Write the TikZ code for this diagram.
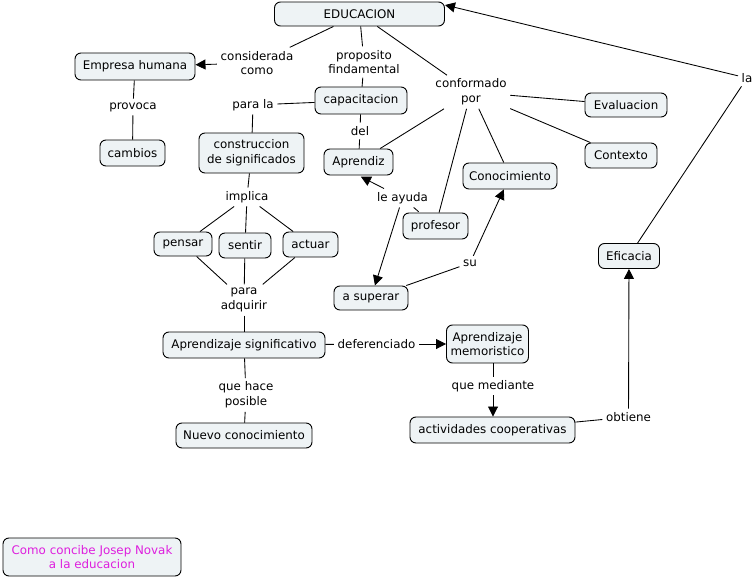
\documentclass[tikz,border=0pt]{standalone}
\usepackage{fontspec}
\setmainfont{DejaVu Sans}
\usetikzlibrary{arrows.meta}
\definecolor{boxfill}{RGB}{238,243,245}
\definecolor{novak}{RGB}{222,30,222}
\begin{document}
\begin{tikzpicture}[x=0.75pt,y=-0.75pt,
  every node/.style={font=\fontsize{8.9pt}{11pt}\selectfont, align=center},
  box/.style={draw, line width=0.7pt, rounded corners=4.5pt, fill=boxfill, inner sep=0pt},
  bs/.style 2 args={minimum width=#1*0.75pt, minimum height=#2*0.75pt},
  lab/.style={inner sep=2.6pt},
  conn/.style={line width=0.65pt},
  arr/.style={conn, -{Triangle[length=7.5pt,width=7.5pt]}}
]
\useasboundingbox (0,0) rectangle (755,578);
% concept boxes
\node[box, bs={170}{24}] (educ) at (359.5,14) {EDUCACION};
\node[box, bs={120}{27}] (emp) at (135,66.5) {Empresa humana};
\node[box, bs={65}{26}] (camb) at (132.5,153) {cambios};
\node[box, bs={92}{27}] (capa) at (361,100.5) {capacitacion};
\node[box, bs={105}{40}] (cons) at (251.5,153) {construccion\\de significados};
\node[box, bs={69}{26}] (apr) at (358.5,162) {Aprendiz};
\node[box, bs={94}{26}] (cono) at (510,176) {Conocimiento};
\node[box, bs={82}{24}] (eval) at (626,105) {Evaluacion};
\node[box, bs={72}{25}] (cont) at (621,155.5) {Contexto};
\node[box, bs={65}{26}] (prof) at (435.5,226) {profesor};
\node[box, bs={58}{24}] (pens) at (183,244) {pensar};
\node[box, bs={52}{25}] (sent) at (245,245.5) {sentir};
\node[box, bs={55}{25}] (actu) at (310.5,244.5) {actuar};
\node[box, bs={74}{24}] (asup) at (371,298) {a superar};
\node[box, bs={61}{25}] (efic) at (629,256) {Eficacia};
\node[box, bs={162}{26}] (asig) at (244,345) {Aprendizaje significativo};
\node[box, bs={82}{38}] (amem) at (487.5,344) {Aprendizaje\\memoristico};
\node[box, bs={136}{25}] (nuevo) at (244,435.5) {Nuevo conocimiento};
\node[box, bs={165}{26}] (acti) at (492.5,430) {actividades cooperativas};
\node[box, bs={178}{38}, text=novak] (como) at (92,557) {Como concibe Josep Novak\\a la educacion};
% link labels
\node[lab] (l1) at (257,63) {considerada\\como};
\node[lab] (l2) at (364,62) {proposito\\findamental};
\node[lab] (l3) at (471,92) {conformado\\por};
\node[lab] (l4) at (133,107) {provoca};
\node[lab] (l5) at (253,105) {para la};
\node[lab] (l6) at (360,131) {del};
\node[lab] (l7) at (247,197) {implica};
\node[lab] (l8) at (402.5,198) {le ayuda};
\node[lab] (l9) at (470,263) {su};
\node[lab] (l10) at (244,300) {para\\adquirir};
\node[lab] (l11) at (376.5,344) {deferenciado};
\node[lab] (l12) at (246,395) {que hace\\posible};
\node[lab] (l13) at (493,386) {que mediante};
\node[lab] (l14) at (628.5,417) {obtiene};
\node[lab] (l15) at (747,78) {la};
% connectors
\draw[conn] (educ) -- (l1);
\draw[arr] (l1) -- (emp);
\draw[conn] (educ) -- (l2);
\draw[conn] (l2) -- (capa);
\draw[conn] (educ) -- (l3);
\draw[conn] (l3) -- (eval);
\draw[conn] (l3) -- (cont);
\draw[conn] (l3) -- (cono);
\draw[conn] (l3) -- (prof);
\draw[conn] (l3) -- (apr);
\draw[conn] (emp) -- (l4);
\draw[conn] (l4) -- (camb);
\draw[conn] (capa) -- (l5);
\draw[conn] (l5) -- (cons);
\draw[conn] (capa) -- (l6);
\draw[conn] (l6) -- (apr);
\draw[conn] (cons) -- (l7);
\draw[conn] (l7) -- (pens);
\draw[conn] (l7) -- (sent);
\draw[conn] (l7) -- (actu);
\draw[conn] (pens) -- (l10);
\draw[conn] (sent) -- (l10);
\draw[conn] (actu) -- (l10);
\draw[conn] (l10) -- (asig);
\draw[conn, shorten <=1pt] (prof) -- (l8);
\draw[arr, shorten >=2pt] (l8) -- (apr.south);
\draw[arr] (l8) -- (asup);
\draw[conn] (asup) -- (l9);
\draw[arr] (l9) -- (cono);
\draw[conn] (asig) -- (l11);
\draw[arr] (l11) -- (amem);
\draw[conn] (asig) -- (l12);
\draw[conn] (l12) -- (nuevo);
\draw[conn] (l13 |- amem.south) -- (l13);
\draw[arr] (l13) -- (l13 |- acti.north);
\draw[conn] (acti) -- (l14);
\draw[arr] (l14) -- (efic);
\draw[conn] (efic) -- (l15);
\draw[arr] (l15) -- ([yshift=6.75pt]educ.east);
\end{tikzpicture}
\end{document}
